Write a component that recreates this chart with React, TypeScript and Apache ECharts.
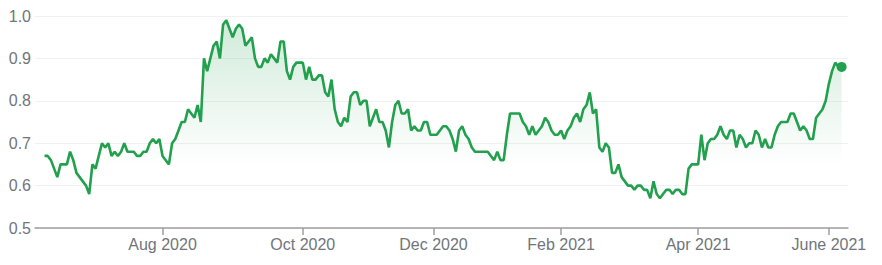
import React, { useEffect, useRef } from "react";
import * as echarts from "echarts";

// Daily closing prices (one per trading day, June 2020 – June 2021)
const prices: number[] = [
  0.67, 0.67, 0.66, 0.64, 0.62, 0.65, 0.65, 0.65, 0.68, 0.66,
  0.63, 0.62, 0.61, 0.60, 0.58, 0.65, 0.64, 0.67, 0.70, 0.69,
  0.70, 0.67, 0.68, 0.67, 0.68, 0.70, 0.68, 0.68, 0.68, 0.67,
  0.67, 0.68, 0.68, 0.70, 0.71, 0.70, 0.71, 0.67, 0.66, 0.65,
  0.70, 0.71, 0.73, 0.75, 0.75, 0.78, 0.77, 0.76, 0.79, 0.75,
  0.90, 0.87, 0.90, 0.93, 0.94, 0.90, 0.98, 0.99, 0.97, 0.95,
  0.97, 0.98, 0.97, 0.93, 0.94, 0.95, 0.90, 0.88, 0.88, 0.90,
  0.89, 0.91, 0.90, 0.89, 0.94, 0.94, 0.87, 0.85, 0.88, 0.89,
  0.89, 0.89, 0.85, 0.88, 0.85, 0.85, 0.86, 0.86, 0.82, 0.81,
  0.85, 0.78, 0.75, 0.74, 0.76, 0.75, 0.81, 0.82, 0.82, 0.79,
  0.80, 0.80, 0.74, 0.76, 0.78, 0.75, 0.75, 0.73, 0.69, 0.75,
  0.79, 0.80, 0.77, 0.77, 0.78, 0.73, 0.74, 0.73, 0.73, 0.75,
  0.75, 0.72, 0.72, 0.72, 0.73, 0.74, 0.74, 0.73, 0.71, 0.68,
  0.73, 0.74, 0.72, 0.71, 0.69, 0.68, 0.68, 0.68, 0.68, 0.68,
  0.67, 0.66, 0.68, 0.66, 0.66, 0.72, 0.77, 0.77, 0.77, 0.77,
  0.75, 0.74, 0.72, 0.74, 0.72, 0.73, 0.74, 0.76, 0.75, 0.73,
  0.72, 0.72, 0.73, 0.71, 0.73, 0.74, 0.76, 0.77, 0.75, 0.78,
  0.79, 0.82, 0.77, 0.78, 0.69, 0.68, 0.70, 0.69, 0.63, 0.63,
  0.65, 0.62, 0.61, 0.60, 0.60, 0.59, 0.60, 0.60, 0.59, 0.59,
  0.57, 0.61, 0.58, 0.57, 0.58, 0.59, 0.59, 0.58, 0.59, 0.59,
  0.58, 0.58, 0.64, 0.65, 0.65, 0.65, 0.72, 0.66, 0.70, 0.71,
  0.71, 0.72, 0.74, 0.72, 0.71, 0.73, 0.73, 0.69, 0.72, 0.71,
  0.69, 0.70, 0.70, 0.73, 0.72, 0.69, 0.71, 0.69, 0.69, 0.72,
  0.74, 0.75, 0.75, 0.75, 0.77, 0.77, 0.75, 0.73, 0.74, 0.73,
  0.71, 0.71, 0.76, 0.77, 0.78, 0.80, 0.84, 0.87, 0.89, 0.88,
  0.88,
];

// Month tick labels and the trading-day index they fall on
const tickLabels: string[] = ["Aug 2020", "Oct 2020", "Dec 2020", "Feb 2021", "Apr 2021", "June 2021"];
const tickDayIndex: number[] = [37, 81, 122, 162, 205, 246];

// Value axis ticks
const yMin = 0.5;
const yMax = 1.0;
const yStep = 0.1;

const PAD_START = 3;
const PAD_END = 2;

const GREEN = "#22a04e";
const LABEL = "#70757a";
const FONT = "Arial, 'Liberation Sans', sans-serif";

export default function App() {
  const ref = useRef<HTMLDivElement>(null);

  useEffect(() => {
    if (!ref.current) return;
    const chart = echarts.init(ref.current, undefined, { renderer: "svg" });

    const total = PAD_START + prices.length + PAD_END;
    const labelAt: Record<number, string> = {};
    tickDayIndex.forEach((d, k) => {
      labelAt[d + PAD_START] = tickLabels[k];
    });
    const categories: string[] = [];
    for (let i = 0; i < total; i++) {
      categories.push(labelAt[i] !== undefined ? labelAt[i] : `d${i}`);
    }
    const lineData: (number | null)[] = [];
    for (let i = 0; i < total; i++) {
      const d = i - PAD_START;
      lineData.push(d >= 0 && d < prices.length ? prices[d] : null);
    }
    const lastIdx = PAD_START + prices.length - 1;
    const isTick = (index: number) => labelAt[index] !== undefined;

    chart.setOption({
      animation: false,
      grid: { left: 35, right: 34, top: 16, bottom: 37, containLabel: false },
      xAxis: {
        type: "category",
        boundaryGap: false,
        data: categories,
        axisLine: { show: true, lineStyle: { color: "#9e9e9e", width: 1.5 } },
        axisTick: {
          show: true,
          interval: (index: number) => isTick(index),
          length: 7,
          lineStyle: { color: "#9e9e9e", width: 1.5 },
        },
        axisLabel: {
          interval: (index: number) => isTick(index),
          color: LABEL,
          fontSize: 16,
          fontFamily: FONT,
          margin: 8,
        },
        splitLine: { show: false },
      },
      yAxis: {
        type: "value",
        min: yMin,
        max: yMax,
        interval: yStep,
        axisLine: { show: false },
        axisTick: { show: false },
        axisLabel: {
          formatter: (v: number) => v.toFixed(1),
          color: LABEL,
          fontSize: 16,
          fontFamily: FONT,
          margin: 4,
        },
        splitLine: { lineStyle: { color: "#f1f1f1", width: 1 } },
      },
      series: [
        {
          type: "line",
          data: lineData,
          showSymbol: false,
          symbol: "none",
          lineStyle: { color: GREEN, width: 2.6 },
          itemStyle: { color: GREEN },
          areaStyle: {
            color: new echarts.graphic.LinearGradient(0, 0, 0, 1, [
              { offset: 0, color: "rgba(34,160,78,0.30)" },
              { offset: 0.7, color: "rgba(34,160,78,0.0)" },
              { offset: 1, color: "rgba(34,160,78,0.0)" },
            ]),
          },
          z: 2,
        },
        {
          type: "scatter",
          data: [[lastIdx, prices[prices.length - 1]]],
          symbol: "circle",
          symbolSize: 10,
          itemStyle: { color: GREEN, opacity: 1 },
          z: 3,
        },
      ],
    });

    return () => {
      chart.dispose();
    };
  }, []);

  return (
    <div
      ref={ref}
      style={{ position: "fixed", left: 0, top: 0, width: 882, height: 265, background: "#ffffff" }}
    />
  );
}
